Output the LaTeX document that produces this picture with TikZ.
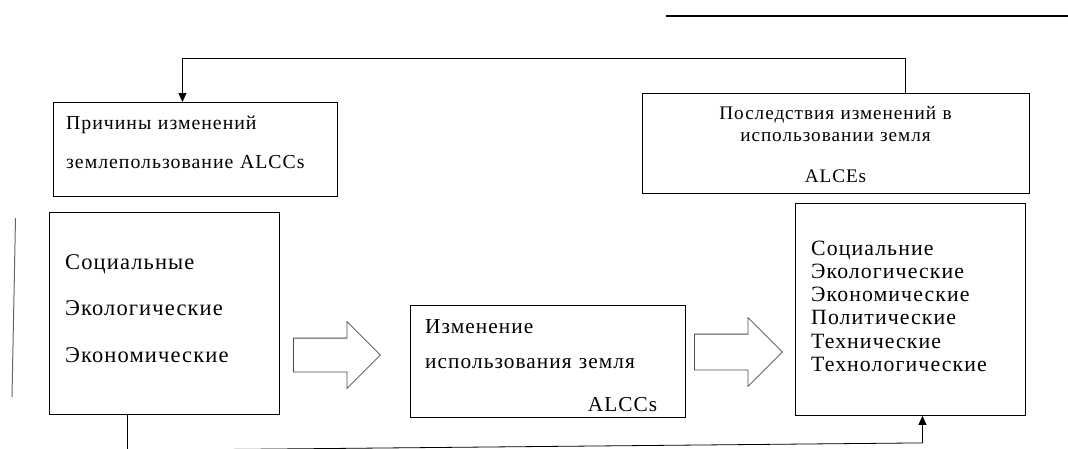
\documentclass[tikz,border=0pt]{standalone}
\usepackage{fontspec}
\setmainfont{Liberation Serif}[LetterSpace=5]
\usepackage{tikz}
\usetikzlibrary{positioning,arrows.meta,shapes.arrows}

\begin{document}
\begin{tikzpicture}[
    x=1pt, y=-1pt,
    box/.style={rectangle, draw, line width=0.9pt, inner sep=0pt, anchor=north west},
    txt/.style={inner sep=0pt, anchor=base west, align=left},
    link/.style={line width=0.8pt, -{Triangle[width=8pt,length=9pt]}},
    bigarrow/.style={single arrow, draw=black!70, line width=0.8pt, inner xsep=0pt, anchor=tail,
        single arrow head extend=16.5pt, single arrow tip angle=90}
]
\useasboundingbox (0,0) rectangle (1068,448);

% Causes
\node[box, minimum width=284pt, minimum height=94pt] (causes) at (53,102) {};
\node[txt, text width=260pt, font=\fontsize{19.8pt}{39pt}\selectfont] (causestxt) at (66,129)
    {Причины изменений\\землепользование ALCCs};

% Consequences
\node[box, minimum width=387pt, minimum height=100pt] (effects) at (642,93) {};
\node[txt, anchor=base, align=center, text width=380pt, font=\fontsize{19.2pt}{22pt}\selectfont] (effectstxt) at (835.5,119)
    {Последствия изменений в\\использовании земля\\[19pt]ALCEs};

% Factors
\node[box, minimum width=230pt, minimum height=202pt] (factors) at (49,212) {};
\node[txt, text width=205pt, font=\fontsize{22.5pt}{46.5pt}\selectfont] (factorstxt) at (65,269)
    {Социальные\\Экологические\\Экономические};

% Land use change
\node[box, minimum width=275pt, minimum height=112pt] (change) at (410,305) {};
\node[txt, text width=232pt, font=\fontsize{21.3pt}{35pt}\selectfont] (changetxt) at (425,333)
    {Изменение\\использования земля\\[8pt]\hspace*{\fill}ALCCs};

% Impacts
\node[box, minimum width=230pt, minimum height=212pt] (impacts) at (795,203) {};
\node[txt, text width=212pt, font=\fontsize{21.8pt}{23.3pt}\selectfont] (impactstxt) at (811,255)
    {Социальние\\Экологические\\Экономические\\Политические\\Технические\\Технологические};

% Block arrows
\node[bigarrow, inner ysep=16.5pt, minimum height=87pt] (shiftA) at (293,355) {};
\node[bigarrow, inner ysep=17.5pt, minimum height=88pt] (shiftB) at (694,352) {};

% Feedback loops
\draw[link] ([xshift=69.5pt]effects.north) -- ++(0,-35) -| ([xshift=-13pt]causes.north);
\draw[link] ([xshift=-37pt]factors.south) -- ++(0,35.5)
    -- ([xshift=12pt,yshift=-27pt]impacts.south) -- ([xshift=12pt]impacts.south);

% Stray rules
\draw[line width=1.8pt] (666,16) -- (1068,16);
\draw[line width=1pt, black!60] (15.5,218) -- (12,397);

\end{tikzpicture}
\end{document}
